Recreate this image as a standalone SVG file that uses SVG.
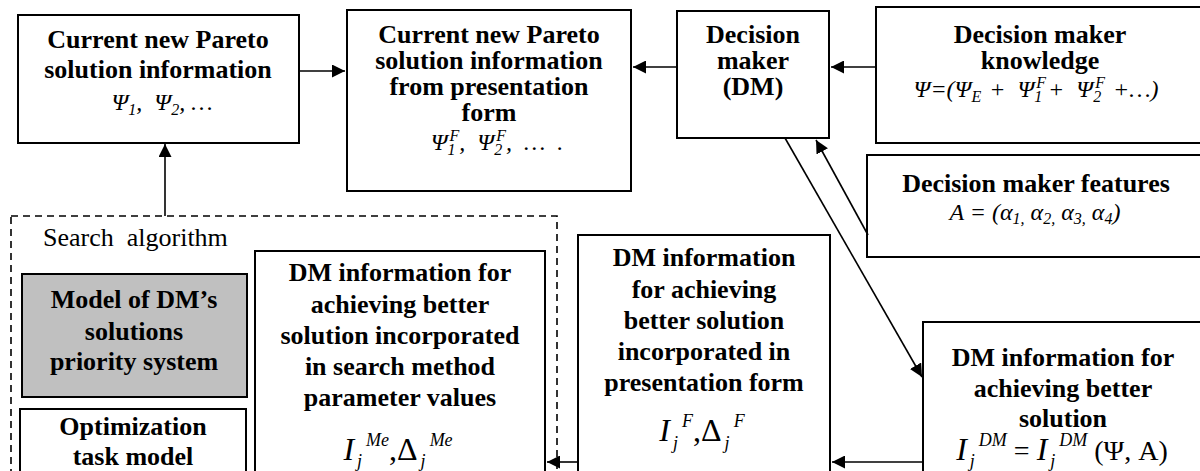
<svg xmlns="http://www.w3.org/2000/svg" width="1200" height="471" viewBox="0 0 1200 471">
<style>
.box{fill:#fff;stroke:#000;stroke-width:2}
.gray{fill:#c0c0c0;stroke:#000;stroke-width:2}
.dash{fill:none;stroke:#000;stroke-width:1.6;stroke-dasharray:7 5}
.t{font-family:"Liberation Serif","Times New Roman",Times,serif;font-weight:bold;font-size:26px;text-anchor:middle;fill:#000}
.m{font-family:"Liberation Serif","Times New Roman",Times,serif;font-style:italic;font-size:24px;text-anchor:middle;fill:#000}
.r{font-family:"Liberation Serif","Times New Roman",Times,serif;font-size:26px;fill:#000}
.big{font-family:"Liberation Serif","Times New Roman",Times,serif;font-size:32px;text-anchor:middle;fill:#000}
.s{font-size:16px}
.ss{font-size:18px;font-style:italic}
.it{font-style:italic}
.ln{stroke:#000;stroke-width:1.6;fill:none;marker-end:url(#ah)}
</style>
<defs>
<marker id="ah" markerUnits="userSpaceOnUse" markerWidth="14" markerHeight="13" refX="13" refY="6.5" orient="auto">
<path d="M0,0 L13,6.5 L0,13 z" fill="#000"/>
</marker>
</defs>

<g id="search-algorithm">
<rect class="dash" x="11" y="216" width="546" height="280"/>
<text class="r" x="43" y="246">Search&#160; algorithm</text>
</g>

<g id="n-current">
<rect class="box" x="18" y="15" width="281" height="128"/>
<text class="t" x="158" y="48">Current new Pareto</text>
<text class="t" x="158" y="78">solution information</text>
<text class="m" x="162" y="110">Ψ<tspan class="s" font-size="15" dy="5">1</tspan><tspan dy="-5">,&#160; Ψ</tspan><tspan class="s" font-size="15" dy="5">2</tspan><tspan dy="-5">, …</tspan></text>
</g>

<g id="n-presented">
<rect class="box" x="347" y="10" width="284" height="181"/>
<text class="t" x="489" y="43">Current new Pareto</text>
<text class="t" x="489" y="69">solution information</text>
<text class="t" x="489" y="95">from presentation</text>
<text class="t" x="489" y="121">form</text>
<text class="m" x="497" y="150" font-size="27">Ψ<tspan class="s" dy="5">1</tspan><tspan class="s" dx="-6" dy="-14">F</tspan><tspan dy="9">,&#160; Ψ</tspan><tspan class="s" dy="5">2</tspan><tspan class="s" dx="-6" dy="-14">F</tspan><tspan dy="9">,&#160; …&#160; .</tspan></text>
</g>

<g id="n-dm">
<rect class="box" x="677" y="11" width="152" height="127"/>
<text class="t" x="753" y="43">Decision</text>
<text class="t" x="753" y="69">maker</text>
<text class="t" x="753" y="95">(DM)</text>
</g>

<g id="n-knowledge">
<rect class="box" x="876" y="7" width="330" height="136"/>
<text class="t" x="1040" y="43">Decision maker</text>
<text class="t" x="1040" y="69">knowledge</text>
<text class="m" x="1036" y="97" font-size="28">Ψ=(Ψ<tspan class="s" dy="5">E</tspan><tspan dy="-5" dx="2"> +&#160; Ψ</tspan><tspan class="s" dy="5">1</tspan><tspan class="s" dx="-6" dy="-14">F</tspan><tspan dy="9" dx="2">+&#160; Ψ</tspan><tspan class="s" dy="5">2</tspan><tspan class="s" dx="-6" dy="-14">F</tspan><tspan dy="9" dx="2"> +…)</tspan></text>
</g>

<g id="n-features">
<rect class="box" x="867" y="155" width="340" height="102"/>
<text class="t" x="1036" y="192">Decision maker features</text>
<text class="m" x="1035" y="220" font-size="28">A = (α<tspan class="s" dy="4">1,</tspan><tspan dy="-4"> α</tspan><tspan class="s" dy="4">2,</tspan><tspan dy="-4"> α</tspan><tspan class="s" dy="4">3,</tspan><tspan dy="-4"> α</tspan><tspan class="s" dy="4">4</tspan><tspan dy="-4">)</tspan></text>
</g>

<g id="n-model">
<rect class="gray" x="22" y="274" width="225" height="123"/>
<text class="t" x="134" y="308">Model of DM’s</text>
<text class="t" x="134" y="340">solutions</text>
<text class="t" x="134" y="370">priority system</text>
</g>

<g id="n-optimization">
<rect class="box" x="20" y="409" width="226" height="70"/>
<text class="t" x="133" y="435">Optimization</text>
<text class="t" x="133" y="465">task model</text>
</g>

<g id="n-search-info">
<rect class="box" x="255" y="251" width="290" height="222"/>
<text class="t" x="400" y="281">DM information for</text>
<text class="t" x="400" y="313">achieving better</text>
<text class="t" x="400" y="344">solution incorporated</text>
<text class="t" x="400" y="375">in search method</text>
<text class="t" x="400" y="406">parameter values</text>
<text class="big" x="398" y="460"><tspan class="it">I</tspan><tspan class="ss" dx="3" dy="7">j</tspan><tspan class="ss" dx="4" dy="-21">Me</tspan><tspan dy="14">,Δ</tspan><tspan class="ss" dx="3" dy="7">j</tspan><tspan class="ss" dx="4" dy="-21">Me</tspan></text>
</g>

<g id="n-presentation-info">
<rect class="box" x="578" y="235" width="252" height="238"/>
<text class="t" x="704" y="266">DM information</text>
<text class="t" x="704" y="298">for achieving</text>
<text class="t" x="704" y="329">better solution</text>
<text class="t" x="704" y="360">incorporated in</text>
<text class="t" x="704" y="391">presentation form</text>
<text class="big" x="702" y="441"><tspan class="it">I</tspan><tspan class="ss" dx="3" dy="8">j</tspan><tspan class="ss" dx="4" dy="-22">F</tspan><tspan dy="14">,Δ</tspan><tspan class="ss" dx="3" dy="8">j</tspan><tspan class="ss" dx="4" dy="-22">F</tspan></text>
</g>

<g id="n-dm-info">
<rect class="box" x="923" y="322" width="290" height="151"/>
<text class="t" x="1063" y="366">DM information for</text>
<text class="t" x="1063" y="397">achieving better</text>
<text class="t" x="1063" y="427">solution</text>
<text class="big" x="1062" y="460"><tspan class="it">I</tspan><tspan class="ss" dx="3" dy="7">j</tspan><tspan class="ss" dx="4" dy="-21">DM</tspan><tspan dy="14" font-size="28"> = </tspan><tspan class="it">I</tspan><tspan class="ss" dx="3" dy="7">j</tspan><tspan class="ss" dx="4" dy="-21">DM</tspan><tspan dy="14" font-size="28"> (Ψ, A)</tspan></text>
</g>

<g id="connectors">
<line class="ln" x1="299" y1="71" x2="345" y2="71"/>
<line class="ln" x1="677" y1="67" x2="633" y2="67"/>
<line class="ln" x1="876" y1="67" x2="831" y2="67"/>
<line class="ln" x1="165" y1="216" x2="165" y2="144"/>
<line class="ln" x1="785" y1="138" x2="922" y2="377"/>
<line class="ln" x1="868" y1="235" x2="816" y2="140"/>
<line class="ln" x1="923" y1="462" x2="832" y2="462"/>
<line class="ln" x1="578" y1="462" x2="547" y2="462"/>
</g>
</svg>
